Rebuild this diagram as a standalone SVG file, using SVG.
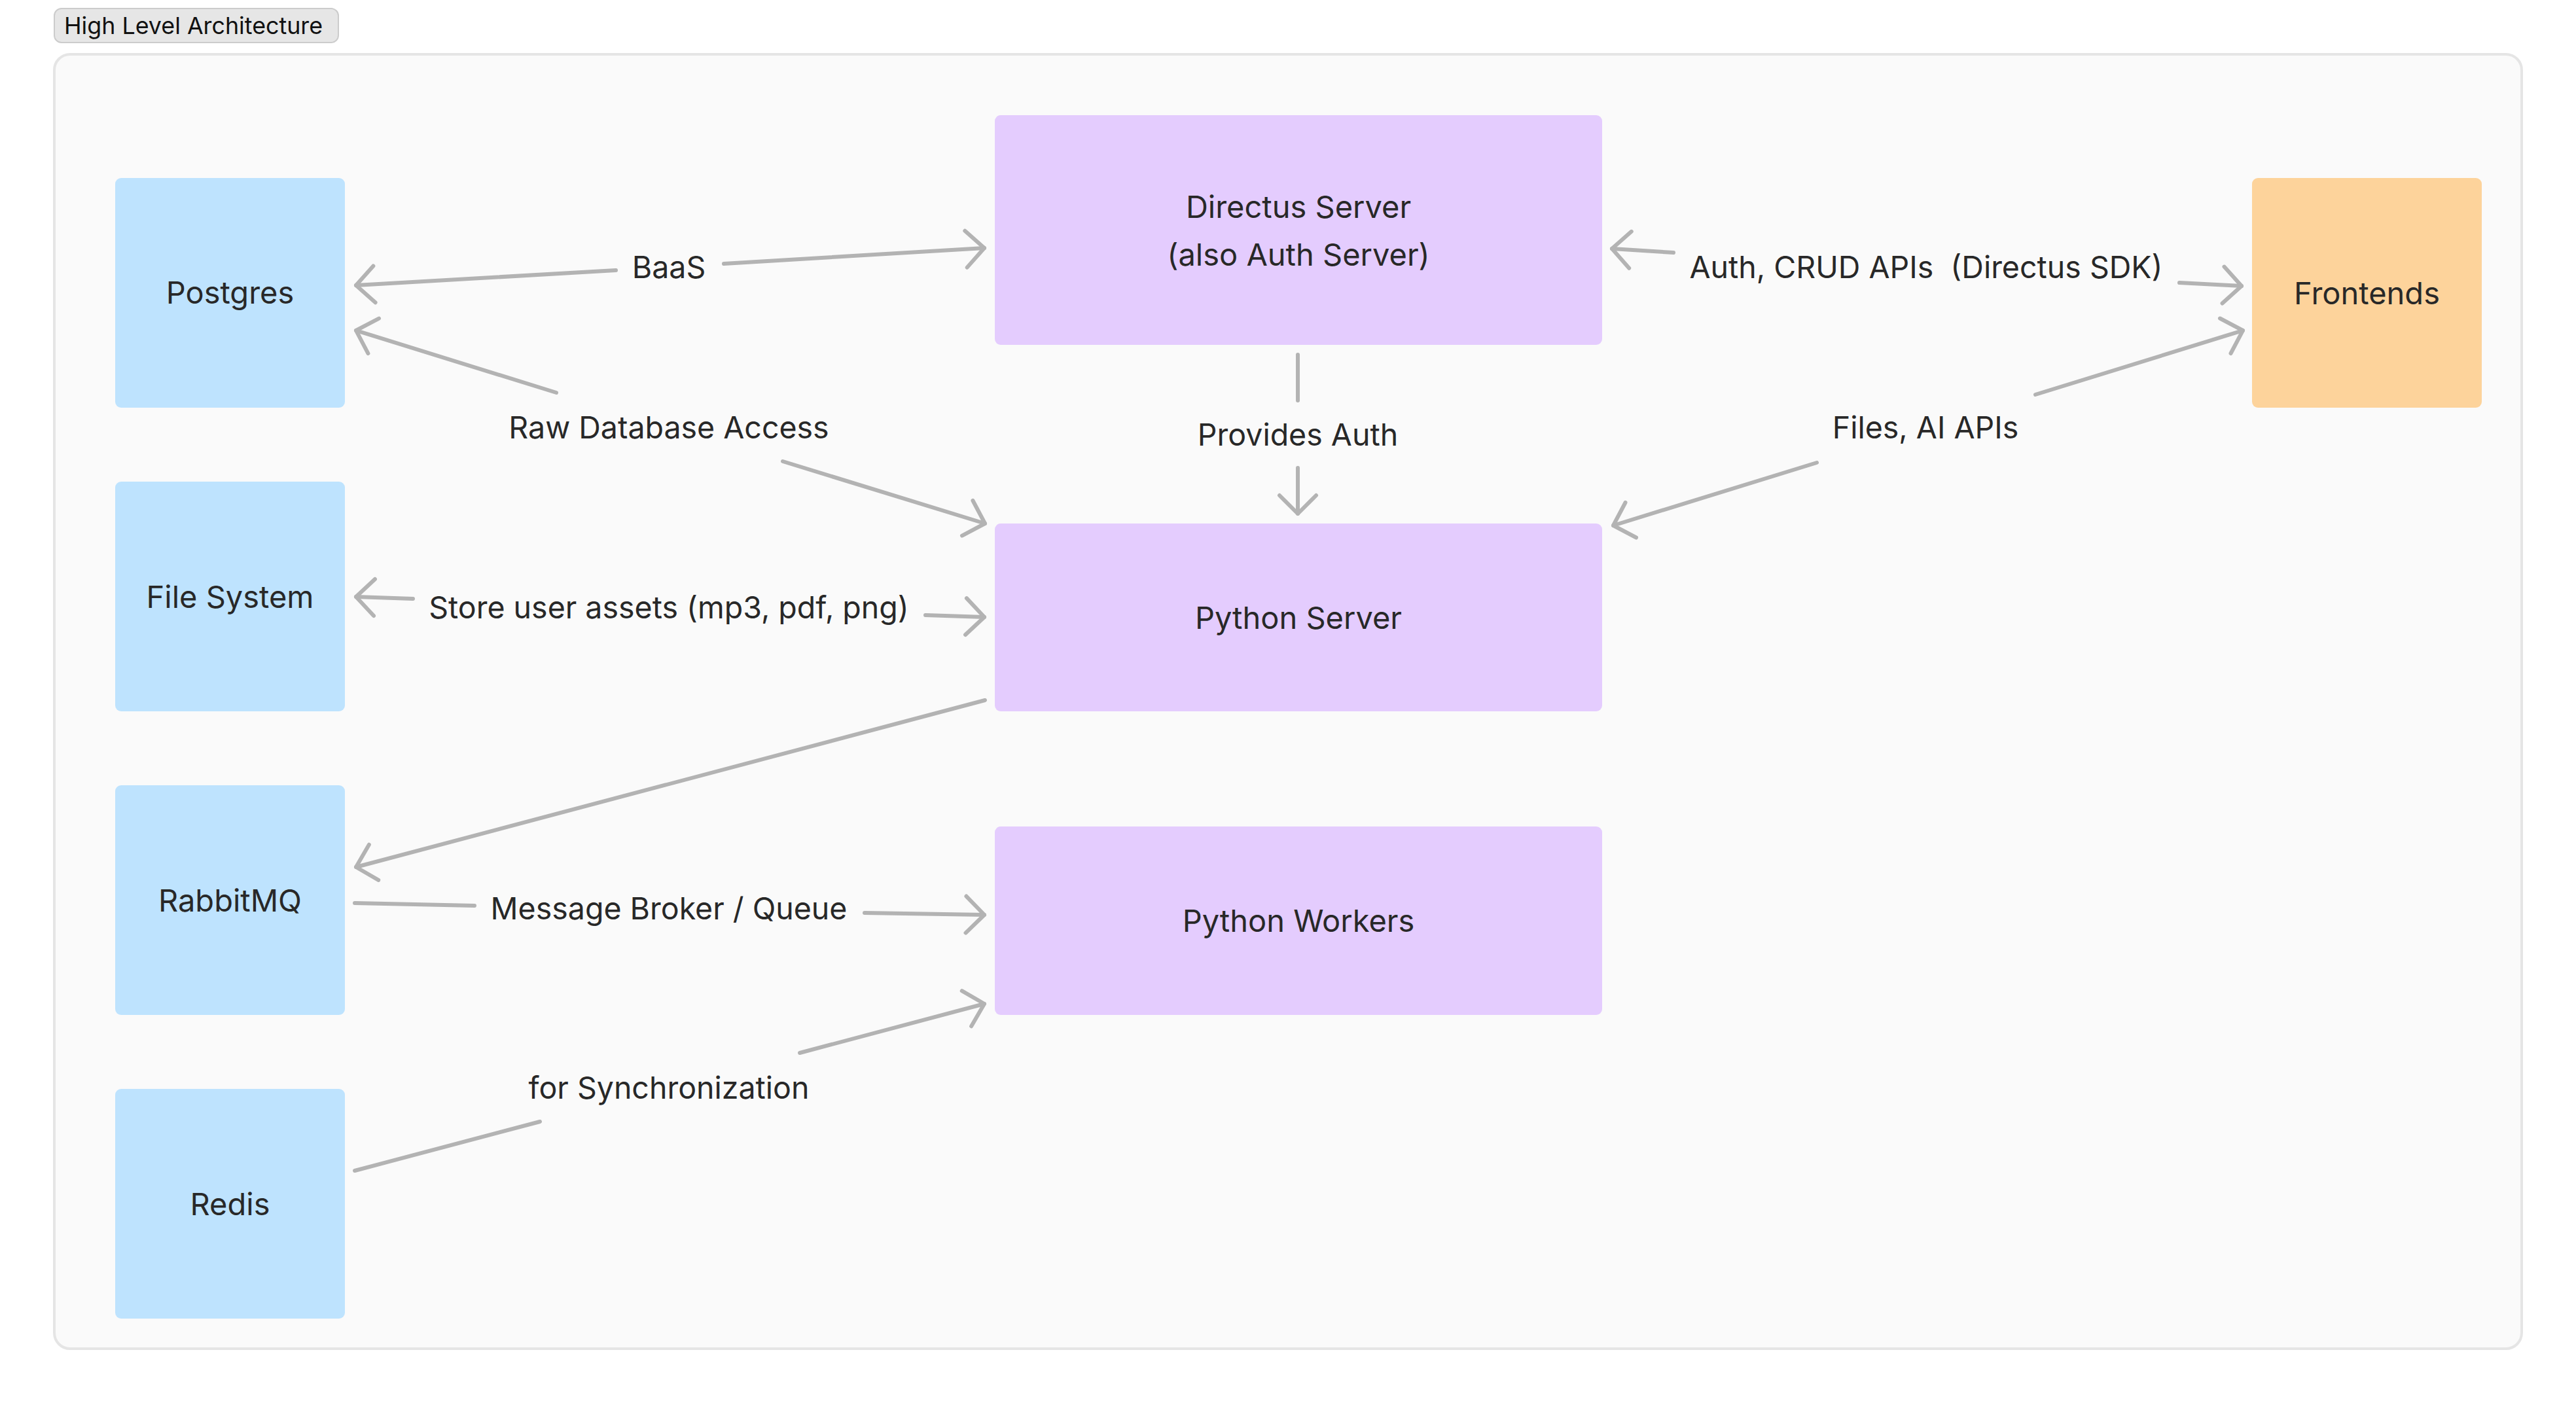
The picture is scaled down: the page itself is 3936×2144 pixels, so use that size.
<svg xmlns="http://www.w3.org/2000/svg" width="3936" height="2144" viewBox="0 0 3936 2144">
<style>
  .node-text { font-family: Inter, "Noto Sans", "Liberation Sans", sans-serif; font-size: 47px; fill: #282828; text-anchor: middle; }
  .label { font-family: Inter, "Noto Sans", "Liberation Sans", sans-serif; font-size: 46.5px; fill: #282828; text-anchor: middle; white-space: pre; }
  .store { fill: #bee3fe; }
  .server { fill: #e4ccfe; }
  .client { fill: #fdd39b; }
  .conn { fill: none; stroke: #b3b3b3; stroke-width: 6; stroke-linecap: round; stroke-linejoin: round; }
</style>
<defs>
  <marker id="chev" markerUnits="userSpaceOnUse" markerWidth="80" markerHeight="80" viewBox="-40 -40 80 80" refX="0" refY="0" orient="auto-start-reverse" overflow="visible">
    <path d="M -28 -28 L 0 0 L -28 28" fill="none" stroke="#b3b3b3" stroke-width="6" stroke-linecap="round" stroke-linejoin="round"/>
  </marker>
</defs>
<rect width="3936" height="2144" fill="#ffffff"/>
<g id="title">
  <rect x="83" y="13" width="434" height="52" rx="11" fill="#e6e6e6" stroke="#cccccc" stroke-width="2"/>
  <text x="98" y="52" font-family="Inter, 'Noto Sans', 'Liberation Sans', sans-serif" font-size="35.8" fill="#111111">High Level Architecture</text>
</g>
<g id="container">
  <rect x="83" y="83" width="3770" height="1978" rx="24" fill="#fafafa" stroke="#e5e5e5" stroke-width="4"/>
</g>
<g id="connectors">
  <path class="conn" d="M 544 436 L 941 413 M 1106 403 L 1504 379" marker-start="url(#chev)" marker-end="url(#chev)"/>
  <path class="conn" d="M 544 505 L 850 600 M 1196 705 L 1505 800" marker-start="url(#chev)" marker-end="url(#chev)"/>
  <path class="conn" d="M 1983 542 L 1983 612 M 1983 715 L 1983 785" marker-end="url(#chev)"/>
  <path class="conn" d="M 2463 380 L 2557 386 M 3330 432 L 3425 437" marker-start="url(#chev)" marker-end="url(#chev)"/>
  <path class="conn" d="M 2465 803 L 2776 707 M 3110 603 L 3427 505" marker-start="url(#chev)" marker-end="url(#chev)"/>
  <path class="conn" d="M 544 912 L 631 915 M 1414 940 L 1504 943" marker-start="url(#chev)" marker-end="url(#chev)"/>
  <path class="conn" d="M 1505 1070 L 544 1325" marker-end="url(#chev)"/>
  <path class="conn" d="M 542 1380 L 725 1384 M 1321 1395 L 1504 1398" marker-end="url(#chev)"/>
  <path class="conn" d="M 542 1789 L 825 1714 M 1222 1609 L 1504 1534" marker-end="url(#chev)"/>
  <text class="label" x="1022" y="425">BaaS</text>
  <text class="label" x="1022" y="670">Raw Database Access</text>
  <text class="label" x="1983" y="681">Provides Auth</text>
  <text class="label" x="2943" y="425" xml:space="preserve">Auth, CRUD APIs  (Directus SDK)</text>
  <text class="label" x="2942" y="670">Files, AI APIs</text>
  <text class="label" x="1022" y="945">Store user assets (mp3, pdf, png)</text>
  <text class="label" x="1022" y="1405">Message Broker / Queue</text>
  <text class="label" x="1022" y="1679">for Synchronization</text>
</g>
<g id="postgres">
  <rect class="store" x="176" y="272" width="351" height="351" rx="9"/>
  <text class="node-text" x="351.5" y="464">Postgres</text>
</g>
<g id="file-system">
  <rect class="store" x="176" y="736" width="351" height="351" rx="9"/>
  <text class="node-text" x="351.5" y="929">File System</text>
</g>
<g id="rabbitmq">
  <rect class="store" x="176" y="1200" width="351" height="351" rx="9"/>
  <text class="node-text" x="351.5" y="1393">RabbitMQ</text>
</g>
<g id="redis">
  <rect class="store" x="176" y="1664" width="351" height="351" rx="9"/>
  <text class="node-text" x="351.5" y="1857">Redis</text>
</g>
<g id="directus-server">
  <rect class="server" x="1520" y="176" width="928" height="351" rx="9"/>
  <text class="node-text" x="1984" y="333">Directus Server</text>
  <text class="node-text" x="1984" y="406">(also Auth Server)</text>
</g>
<g id="python-server">
  <rect class="server" x="1520" y="800" width="928" height="287" rx="9"/>
  <text class="node-text" x="1984" y="961">Python Server</text>
</g>
<g id="python-workers">
  <rect class="server" x="1520" y="1263" width="928" height="288" rx="9"/>
  <text class="node-text" x="1984" y="1424">Python Workers</text>
</g>
<g id="frontends">
  <rect class="client" x="3441" y="272" width="351" height="351" rx="9"/>
  <text class="node-text" x="3616.5" y="465">Frontends</text>
</g>
</svg>
